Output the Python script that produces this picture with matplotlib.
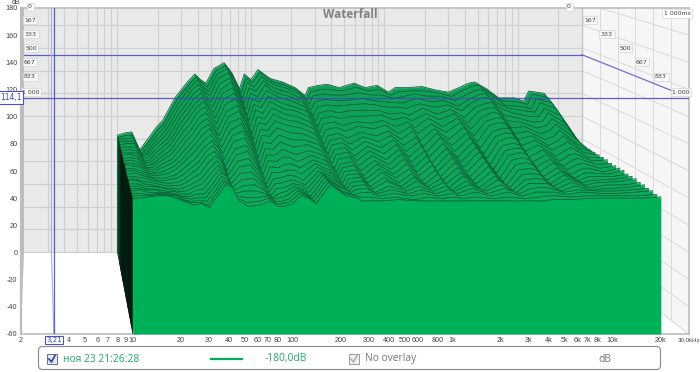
import matplotlib
matplotlib.use("Agg")
import matplotlib.pyplot as plt
import numpy as np
from matplotlib.patches import FancyBboxPatch, Rectangle

plt.rcParams["axes.unicode_minus"] = False

freqs = [10, 11.3, 12.8, 14.7, 16, 17.7, 19.5, 21.8, 24, 27, 30, 34, 38, 42, 46, 53, 63, 72, 82, 89,
         100, 113, 125, 140, 172, 214, 255, 269, 320, 372, 457, 590, 716, 879, 1070, 1200, 1500, 1900,
         2400, 3000, 3600, 4270, 4730, 5800, 7160, 9440, 11000, 12000, 15700, 20000]

# one row per frequency, 26 slices from 0 ms (back) to 1000 ms (front), dB
decay = [
    [43, 43, 44, 44, 43, 43, 42, 42, 42, 41, 41, 41, 42, 41, 41, 40, 40, 40, 41, 40, 40, 40, 40, 40, 40, 40],
    [45, 45, 44, 44, 44, 43, 43, 42, 43, 42, 42, 41, 41, 41, 41, 41, 40, 40, 41, 40, 40, 40, 41, 40, 40, 40],
    [46, 45, 45, 44, 44, 43, 42, 42, 41, 41, 40, 40, 40, 39, 39, 39, 39, 38, 38, 38, 38, 39, 39, 39, 40, 41],
    [30, 31, 31, 32, 33, 33, 33, 34, 34, 34, 35, 35, 35, 36, 36, 37, 37, 37, 37, 38, 38, 39, 39, 40, 41, 42],
    [36, 36, 35, 35, 35, 35, 34, 34, 34, 34, 34, 34, 35, 35, 35, 35, 36, 36, 36, 37, 37, 37, 38, 39, 40, 42],
    [43, 42, 42, 41, 41, 40, 40, 39, 38, 38, 37, 37, 36, 36, 35, 35, 35, 35, 35, 36, 36, 37, 38, 39, 40, 41],
    [50, 49, 48, 47, 46, 45, 44, 43, 42, 41, 40, 39, 38, 37, 36, 36, 35, 35, 35, 35, 36, 36, 37, 38, 38, 39],
    [56, 55, 54, 53, 52, 50, 49, 48, 46, 45, 43, 42, 41, 40, 38, 37, 36, 35, 34, 34, 34, 34, 35, 35, 36, 37],
    [65, 64, 63, 61, 60, 58, 56, 55, 53, 51, 49, 47, 45, 44, 42, 40, 38, 37, 36, 35, 34, 34, 34, 34, 35, 35],
    [76, 75, 73, 72, 70, 68, 66, 64, 62, 59, 57, 54, 52, 50, 47, 45, 43, 41, 39, 38, 37, 36, 35, 35, 35, 36],
    [83, 82, 81, 79, 77, 75, 73, 71, 68, 65, 63, 60, 58, 55, 52, 49, 47, 44, 42, 40, 38, 36, 35, 34, 33, 33],
    [91, 90, 89, 88, 86, 84, 82, 80, 78, 75, 72, 69, 66, 63, 60, 58, 56, 53, 50, 48, 46, 44, 43, 42, 42, 42],
    [97, 96, 95, 93, 91, 89, 87, 85, 82, 79, 76, 73, 71, 68, 65, 63, 60, 58, 56, 54, 53, 52, 51, 50, 50, 50],
    [92, 91, 89, 87, 85, 83, 80, 78, 75, 72, 69, 67, 64, 61, 59, 56, 54, 53, 51, 50, 49, 49, 48, 48, 48, 48],
    [89, 87, 85, 83, 80, 77, 74, 71, 68, 65, 62, 59, 56, 53, 50, 47, 45, 43, 41, 40, 39, 39, 38, 38, 38, 38],
    [102, 101, 100, 98, 95, 92, 90, 87, 84, 80, 77, 74, 70, 67, 64, 60, 57, 54, 51, 48, 45, 42, 40, 37, 35, 34],
    [107, 106, 105, 103, 100, 98, 95, 92, 89, 85, 82, 78, 75, 71, 67, 63, 60, 56, 53, 49, 46, 43, 40, 37, 36, 35],
    [98, 96, 94, 91, 88, 85, 82, 79, 75, 72, 69, 65, 62, 59, 56, 53, 50, 47, 44, 42, 40, 39, 38, 38, 38, 38],
    [84, 82, 79, 76, 73, 70, 67, 64, 60, 57, 54, 51, 48, 45, 42, 40, 38, 36, 35, 34, 33, 33, 34, 34, 34, 34],
    [97, 95, 93, 90, 87, 84, 81, 78, 74, 71, 67, 64, 60, 57, 54, 51, 48, 45, 42, 40, 38, 36, 35, 34, 34, 34],
    [92, 91, 89, 87, 84, 81, 78, 75, 72, 69, 66, 63, 59, 56, 53, 50, 47, 45, 43, 41, 39, 38, 37, 36, 36, 36],
    [101, 100, 98, 96, 94, 91, 88, 85, 81, 78, 74, 70, 66, 62, 58, 54, 50, 47, 45, 43, 42, 42, 42, 42, 42, 42],
    [97, 96, 94, 92, 90, 88, 85, 82, 79, 75, 72, 68, 64, 60, 56, 53, 50, 47, 44, 42, 41, 40, 40, 40, 40, 40],
    [93, 92, 91, 89, 87, 85, 82, 79, 76, 73, 70, 66, 62, 58, 54, 50, 47, 44, 41, 39, 38, 37, 36, 36, 36, 36],
    [90, 89, 88, 86, 84, 82, 79, 77, 74, 71, 68, 65, 62, 60, 57, 55, 53, 52, 51, 50, 50, 50, 50, 50, 50, 50],
    [85, 84, 83, 81, 79, 77, 75, 72, 69, 66, 63, 60, 58, 55, 53, 51, 49, 47, 46, 45, 44, 43, 43, 42, 42, 42],
    [78, 76, 74, 71, 68, 65, 62, 59, 56, 53, 51, 49, 47, 45, 43, 42, 41, 40, 39, 38, 38, 38, 39, 39, 40, 40],
    [85, 83, 81, 78, 75, 72, 69, 66, 63, 60, 58, 56, 54, 52, 50, 48, 47, 46, 45, 44, 43, 42, 41, 40, 39, 38],
    [87, 85, 83, 80, 77, 74, 71, 68, 65, 62, 60, 58, 56, 54, 52, 50, 49, 47, 46, 45, 44, 43, 42, 41, 39, 38],
    [88, 85, 82, 79, 76, 72, 69, 65, 62, 58, 55, 52, 49, 47, 45, 43, 41, 40, 39, 38, 38, 37, 38, 38, 38, 38],
    [85, 84, 82, 79, 77, 74, 71, 68, 66, 63, 61, 59, 57, 55, 53, 51, 50, 48, 47, 45, 44, 42, 41, 40, 39, 39],
    [89, 87, 84, 81, 78, 74, 71, 67, 64, 60, 57, 54, 51, 48, 46, 44, 42, 41, 39, 38, 38, 38, 38, 38, 37, 38],
    [85, 84, 82, 79, 77, 74, 72, 69, 67, 64, 62, 60, 58, 56, 54, 52, 50, 48, 46, 45, 44, 42, 41, 40, 39, 38],
    [87, 85, 82, 78, 75, 71, 68, 64, 60, 57, 54, 51, 48, 46, 44, 42, 41, 39, 38, 38, 38, 38, 38, 38, 38, 38],
    [81, 80, 79, 77, 75, 72, 70, 68, 66, 64, 61, 59, 57, 55, 53, 51, 49, 47, 46, 44, 43, 42, 41, 40, 39, 38],
    [85, 83, 80, 77, 74, 70, 67, 63, 60, 56, 53, 50, 48, 45, 43, 42, 40, 39, 38, 37, 37, 38, 38, 38, 38, 38],
    [85, 84, 83, 81, 78, 76, 73, 71, 68, 66, 64, 62, 59, 57, 55, 53, 51, 49, 47, 46, 44, 43, 42, 41, 39, 38],
    [86, 84, 81, 78, 75, 71, 68, 64, 61, 57, 54, 51, 48, 46, 44, 42, 40, 39, 38, 37, 37, 38, 38, 38, 38, 38],
    [83, 82, 81, 79, 77, 75, 73, 71, 69, 67, 64, 62, 60, 58, 56, 54, 52, 50, 48, 46, 45, 43, 42, 41, 39, 38],
    [81, 79, 77, 74, 72, 68, 65, 62, 58, 55, 52, 49, 47, 44, 42, 41, 39, 38, 37, 37, 37, 37, 38, 38, 38, 38],
    [85, 84, 82, 80, 79, 77, 75, 72, 70, 68, 65, 63, 61, 59, 57, 55, 53, 51, 49, 47, 45, 44, 42, 41, 39, 38],
    [89, 88, 86, 84, 83, 80, 78, 76, 73, 71, 68, 66, 64, 61, 59, 57, 55, 53, 50, 48, 46, 44, 43, 41, 40, 39],
    [90, 89, 87, 85, 83, 81, 78, 75, 73, 70, 68, 65, 63, 60, 58, 56, 53, 51, 49, 47, 45, 44, 42, 41, 40, 39],
    [84, 82, 80, 77, 74, 70, 67, 63, 60, 57, 54, 51, 48, 46, 44, 42, 40, 39, 38, 38, 38, 38, 39, 39, 39, 39],
    [76, 75, 73, 72, 70, 68, 66, 64, 62, 60, 58, 56, 54, 52, 50, 49, 47, 46, 45, 44, 43, 42, 41, 41, 40, 40],
    [76, 74, 72, 70, 67, 64, 61, 58, 55, 52, 50, 47, 45, 43, 42, 40, 39, 39, 39, 39, 39, 39, 40, 40, 40, 40],
    [73, 72, 70, 69, 67, 65, 63, 61, 58, 56, 54, 52, 50, 48, 46, 44, 43, 42, 41, 41, 40, 40, 40, 40, 40, 40],
    [82, 81, 79, 77, 74, 72, 69, 66, 63, 60, 57, 54, 51, 49, 47, 45, 43, 42, 41, 41, 41, 40, 40, 40, 40, 40],
    [80, 78, 75, 72, 68, 64, 60, 56, 52, 50, 48, 46, 45, 44, 43, 42, 42, 42, 42, 42, 41, 41, 41, 41, 40, 40],
    [63, 60, 57, 54, 51, 48, 46, 46, 46, 46, 46, 46, 46, 45, 45, 45, 45, 44, 44, 44, 43, 43, 42, 42, 41, 41],
]

y_ticks = [-60, -40, -20, 0, 20, 40, 60, 80, 100, 120, 140, 160, 180]
x_tick_freqs = [2, 4, 5, 6, 7, 8, 9, 10, 20, 30, 40, 50, 60, 70, 80, 100, 200, 300, 400, 500, 600, 800,
                1000, 2000, 3000, 4000, 5000, 6000, 7000, 8000, 10000, 20000, 30000]
x_tick_labels = ["2", "4", "5", "6", "7", "8", "9", "10", "20", "30", "40", "50", "60", "70", "80", "100",
                 "200", "300", "400", "500", "600", "800", "1k", "2k", "3k", "4k", "5k", "6k", "7k", "8k",
                 "10k", "20k", "30,0kHz"]
grid_freqs = [3, 4, 5, 6, 7, 8, 9, 10, 20, 30, 40, 50, 60, 70, 80, 90, 100, 200, 300, 400, 500, 600, 700, 800,
              900, 1000, 2000, 3000, 4000, 5000, 6000, 7000, 8000, 9000, 10000, 20000]
time_labels = ["0", "167", "333", "500", "667", "833", "1 000"]
cursor_freq = 3.21
cursor_db = 114.1

S = 0.835
SHIFT = 3 / 160
FLOOR = 60.3
LOG2 = np.log10(2)
GREEN = "#00B058"


def project(freq, db, u):
    # u = 1 is the back wall, u = 0 the front plane
    s = 1 - (1 - S) * u
    lg = LOG2 + (np.log10(freq) - LOG2) * s + SHIFT * u
    return 10 ** lg, -60 + (np.asarray(db, dtype=float) + 60) * s + FLOOR * u


fig = plt.figure(figsize=(7, 3.72), dpi=100)
ax = fig.add_axes([21 / 700, 1 - 334 / 372, 668 / 700, 326 / 372])
ax.set_xscale("log")
ax.set_xlim(2, 30000)
ax.set_ylim(-60, 180)
ax.minorticks_off()
ax.set_xticks(x_tick_freqs)
ax.set_xticklabels(x_tick_labels, family="Liberation Sans")
ax.set_yticks(y_ticks)
ax.set_yticklabels([str(v) for v in y_ticks], family="Liberation Sans")
ax.xaxis.set_minor_locator(matplotlib.ticker.NullLocator())
ax.tick_params(axis="both", which="both", length=0, pad=2.5, labelsize=5.2, colors="#444444")
ax.get_xticklabels()[-1].set_fontsize(4.4)
for sp in ax.spines.values():
    sp.set_color("#BDBDBD")
    sp.set_linewidth(1.2)
ax.spines["left"].set_linewidth(1.6)

# walls
top = 300
bx, by = project(np.array([2, 30000, 30000, 2]), [-60, -60, top, top], 1)
ax.fill(bx, by, color="#E9E9E9", lw=0, zorder=1)
rx = [bx[1], 30000, 30000, bx[1]]
ry = [by[1], -60, 180, 180]
ax.fill(rx, ry, color="#F6F6F6", lw=0, zorder=1)

band_x, band_y = project(np.array([2, 2]), [-60, -60], 1)
ax.fill([2, band_x[0], band_x[0], 2], [-60, band_y[0], 180, 180], color="#BDBDBD", lw=0, zorder=2)

for db in range(-60, 300, 20):
    x, y = project(np.array([2, 30000]), [db, db], 1)
    ax.plot(x, y, color="#CFCFCF", lw=0.8, zorder=2)
    ax.plot([bx[1], 30000], [y[1], db], color="#DADADA", lw=0.7, zorder=2)
for f in grid_freqs:
    x, y = project(np.array([f, f]), [-60, top], 1)
    ax.plot(x, y, color="#CFCFCF", lw=0.8, zorder=2)
for i in range(1, 7):
    u = 1 - i / 6
    x, y = project(np.array([30000, 30000]), [-60, top], u)
    ax.plot(x, y, color="#DADADA", lw=0.7, zorder=2)
x, y = project(np.array([30000, 30000]), [-60, top], 1)
ax.plot(x, y, color="#C4C4C4", lw=1.0, zorder=2)

# cursor on the walls
x, y = project(np.array([2, 30000]), [cursor_db, cursor_db], 1)
ax.plot(x, y, color="#5560C8", lw=0.9, zorder=3)
x2, y2 = project(30000, cursor_db, 0.12)
ax.plot([x[1], x2], [y[1], y2], color="#6A74D0", lw=0.9, zorder=3)
x, y = project(np.array([cursor_freq, cursor_freq]), [-60, top], 1)
ax.plot(x, y, color="#AEB4E6", lw=0.9, zorder=3)
ax.plot([x[0], cursor_freq], [y[0], -60], color="#AEB4E6", lw=0.9, zorder=3)

# waterfall, back to front
freqs = np.array(freqs)
levels = np.array(decay, dtype=float).T
n = levels.shape[0]
fill_a = np.array(matplotlib.colors.to_rgb("#0F9F58"))
fill_b = np.array(matplotlib.colors.to_rgb("#0CAA5C"))
for k in range(n):
    u = 1 - k / (n - 1)
    x, y = project(freqs, levels[k], u)
    fx, fy = project(freqs, np.full(len(freqs), -60.0), u)
    # black side of the block
    if k < n - 1:
        u2 = 1 - (k + 1) / (n - 1)
        x_n, y_n = project(freqs[0], levels[k + 1][0], u2)
        xf_n, yf_n = project(freqs[0], -60.0, u2)
        side = (0.03, 0.30 * max(0, 1 - k / 6), 0.16 * max(0, 1 - k / 6)) if k < 6 else "black"
        ax.fill([x[0], x_n, xf_n, fx[0]], [y[0], y_n, yf_n, fy[0]], color=side, lw=0.3, zorder=4 + k)
    col = GREEN if k == n - 1 else fill_a + (fill_b - fill_a) * k / (n - 1)
    ax.fill_between(x, y, fy, color=col, lw=0, zorder=5 + k)
    ax.plot(x, y, color="#0D5A33", lw=0.55, zorder=5 + k, solid_joinstyle="round")

# front cursor
ax.axhline(cursor_db, color="#3F48BE", lw=0.9, alpha=0.85, zorder=60)
ax.axvline(cursor_freq, color="#3F48BE", lw=0.9, alpha=0.85, zorder=60)

# overlay in pixels for the texts and the bar below
ov = fig.add_axes([0, 0, 1, 1], facecolor="none")
ov.set_xlim(0, 700)
ov.set_ylim(372, 0)
ov.axis("off")

ov.text(350, 15, "Waterfall", color="#808080", fontsize=8.5, fontweight="bold", ha="center", va="center",
        family="Open Sans")
ov.text(16, 3, "dB", color="#444444", fontsize=5, ha="center", va="center", family="Liberation Sans")

tag = dict(boxstyle="square,pad=0.25", fc="#F7F7F7", ec="#D5D5D5", lw=0.5)
left_x = [30, 30, 31, 31, 30, 30, 31]
right_x = [569, 590, 607, 625, 642, 661, 681]
tag_y = [7, 20, 34, 48, 62, 77, 92]
for lab, lx, rx_, ty in zip(time_labels, left_x, right_x, tag_y):
    ov.text(lx, ty, lab, fontsize=4.5, color="#444444", ha="center", va="center", bbox=tag, clip_on=True)
    ov.text(rx_, ty, lab, fontsize=4.5, color="#444444", ha="center", va="center", bbox=tag, clip_on=True)
ov.text(677, 13.5, "1 000ms", fontsize=4.5, color="#444444", ha="center", va="center",
        bbox=dict(boxstyle="square,pad=0.3", fc="white", ec="#D5D5D5", lw=0.5))

blue = dict(boxstyle="square,pad=0.2", fc="white", ec="#4A50C8", lw=0.8)
ov.text(10.5, 97.5, "114,1", fontsize=5.5, color="#3A40C0", ha="center", va="center", bbox=blue)
ov.text(54, 340, "3,21", fontsize=5, color="#3A40C0", ha="center", va="center", bbox=blue)

ov.add_patch(FancyBboxPatch((38.5, 346.5), 622, 23, boxstyle="round,pad=0,rounding_size=4", fc="white",
                            ec="#8A8A8A", lw=0.8))
ov.add_patch(Rectangle((47, 354), 10, 10, fc="#E4E8F2", ec="#6F6F7F", lw=0.7))
ov.plot([49, 51.5, 55], [359, 362, 355.5], color="#3A4FA0", lw=1.3)
ov.text(63, 359, "ноя 23 21:26:28", color="#1FA86A", fontsize=7.4, ha="left", va="center", family="Open Sans")
ov.plot([211, 242], [359, 359], color=GREEN, lw=1.6)
ov.text(265, 359, "-180,0dB", color="#1FA86A", fontsize=7.4, ha="left", va="center", family="Open Sans")
ov.add_patch(Rectangle((349, 354), 10, 10, fc="#F2F2F2", ec="#9A9A9A", lw=0.7))
ov.plot([351, 353.5, 357], [359, 362, 355.5], color="#B5B5B5", lw=1.3)
ov.text(365, 359, "No overlay", color="#777777", fontsize=7.4, ha="left", va="center", family="Open Sans")
ov.text(598, 359, "dB", color="#777777", fontsize=7.4, ha="left", va="center", family="Open Sans")

fig.savefig("out.png", dpi=100)
